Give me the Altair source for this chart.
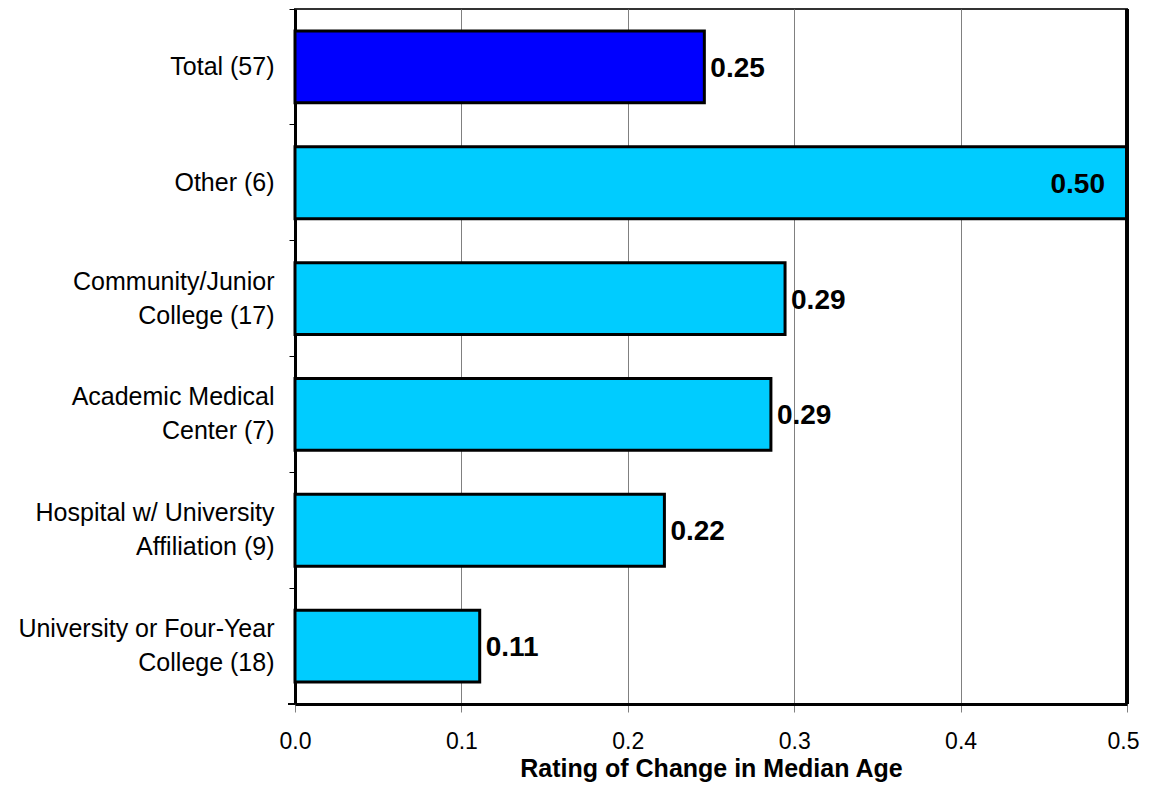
import altair as alt
import pandas as pd

categories = [
    "Total (57)",
    "Other (6)",
    "Community/Junior\nCollege (17)",
    "Academic Medical\nCenter (7)",
    "Hospital w/ University\nAffiliation (9)",
    "University or Four-Year\nCollege (18)",
]
values = [0.246, 0.50, 0.2945, 0.286, 0.222, 0.111]
groups = ["total", "type", "type", "type", "type", "type"]

df = pd.DataFrame({"category": categories, "value": values, "group": groups})

FONT = "Liberation Sans"

y_enc = alt.Y(
    "category:N",
    sort=categories,
    scale=alt.Scale(paddingInner=0, paddingOuter=0),
    axis=alt.Axis(
        title=None,
        labelExpr="split(datum.label, '\\n')",
        labelFontSize=25,
        labelFont=FONT,
        labelColor="black",
        labelLineHeight=34,
        labelPadding=15,
        labelLimit=400,
        labelOffset={"condition": {"test": "indexof(datum.label, '\\n') >= 0", "value": -17}, "value": 0},
        tickSize=6,
        tickColor="black",
        tickWidth=1,
        bandPosition=0,
        domainColor="black",
        domainWidth=3,
        grid=False,
    ),
)

x_enc = alt.X(
    "value:Q",
    scale=alt.Scale(domain=[0, 0.5], nice=False, zero=True),
    axis=alt.Axis(
        title="Rating of Change in Median Age",
        titleFont=FONT,
        titleFontSize=25,
        titleFontWeight="bold",
        titleColor="black",
        titlePadding=3,
        values=[0, 0.1, 0.2, 0.3, 0.4, 0.5],
        format=".1f",
        labelFont=FONT,
        labelFontSize=23,
        labelColor="black",
        labelPadding=18,
        labelFlush=False,
        labelOffset={"condition": {"test": "datum.value >= 0.5", "value": -4}, "value": 0},
        tickSize=8,
        tickColor="#808080",
        domainColor="black",
        domainWidth=3,
        grid=True,
        gridColor="#808080",
        gridWidth=1,
    ),
)

bars = alt.Chart(df).mark_bar(
    height={"band": 0.62}, stroke="black", strokeWidth=3
).encode(
    x=x_enc,
    y=y_enc,
    color=alt.Color(
        "group:N",
        scale=alt.Scale(domain=["total", "type"], range=["#0000FF", "#00CCFF"]),
        legend=None,
    ),
)

outside = alt.Chart(df).transform_filter("datum.value < 0.45").mark_text(
    align="left", baseline="middle", dx=6, dy=2, fontSize=28, fontWeight="bold", font=FONT, color="black"
).encode(
    x="value:Q",
    y=alt.Y("category:N", sort=categories),
    text=alt.Text("value:Q", format=".2f"),
)

inside = alt.Chart(df).transform_filter("datum.value >= 0.45").mark_text(
    align="right", baseline="middle", dx=-22, dy=2, fontSize=28, fontWeight="bold", font=FONT, color="black"
).encode(
    x="value:Q",
    y=alt.Y("category:N", sort=categories),
    text=alt.Text("value:Q", format=".2f"),
)

right_border = alt.Chart(df).mark_rule(color="black", strokeWidth=3).encode(
    x=alt.value(832), y=alt.value(0), y2=alt.value(695)
)

bottom_tick = alt.Chart(df).mark_rule(color="black", strokeWidth=1).encode(
    x=alt.value(-7), x2=alt.value(0), y=alt.value(695)
)

chart = (
    alt.layer(bars, outside, inside, right_border, bottom_tick)
    .properties(
        width=832,
        height=695,
        autosize=alt.AutoSizeParams(type="none"),
        padding={"left": 287, "top": 1, "right": 14, "bottom": 80},
        background="white",
    )
    .configure_view(stroke="#333333", strokeWidth=2)
)

chart.save("out.html", embed_options={"renderer": "svg", "actions": False})
